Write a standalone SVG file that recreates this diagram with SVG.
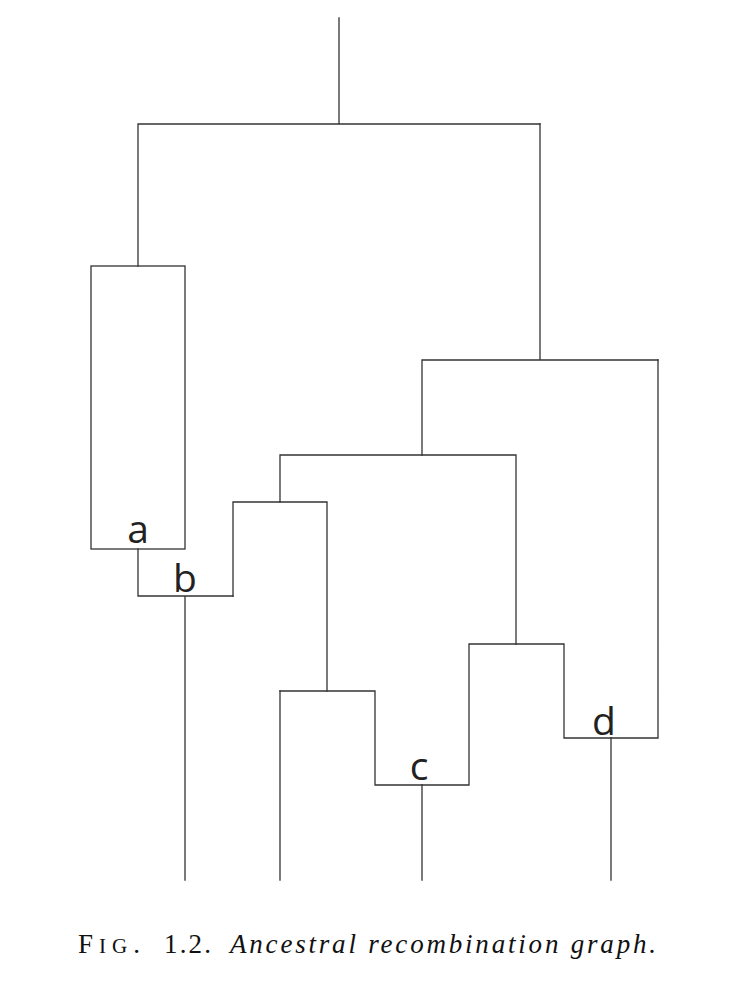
<svg xmlns="http://www.w3.org/2000/svg" width="739" height="1001" viewBox="0 0 739 1001">
<style>
.e{fill:none;stroke:#333;stroke-width:1.3;stroke-linecap:square}
.lab{font-family:"Open Sans","DejaVu Sans",sans-serif;font-size:39px;fill:#222;text-anchor:middle}
.cap{font-family:"Liberation Serif",serif;font-size:27px;fill:#111}
</style>
<rect width="739" height="1001" fill="#fff"/>
<g id="edges">
<path class="e" d="M339,18V124M138,124H540M138,124V266"/>
<path class="e" d="M540,124V360M422,360H658M422,360V455"/>
<path class="e" d="M280,455H516M280,455V502M516,455V644"/>
<path class="e" d="M233,502H327M327,502V691M233,502V596"/>
<path class="e" d="M138,549V596H233M185,596V880"/>
<path class="e" d="M280,691H375V785H469V644H564V738H658V360"/>
<path class="e" d="M280,691V880M422,785V880M611,738V880"/>
</g>
<g id="node-a"><rect class="e" x="91" y="266" width="94" height="283"/><text class="lab" x="138" y="543">a</text></g>
<g id="node-b"><text class="lab" x="185" y="592">b</text></g>
<g id="node-c"><text class="lab" x="419" y="780">c</text></g>
<g id="node-d"><text class="lab" x="604" y="735">d</text></g>
<g id="caption">
<text class="cap" x="78" y="953" textLength="62" lengthAdjust="spacing">F<tspan font-size="21">IG</tspan>.</text>
<text class="cap" x="164" y="953" textLength="47" lengthAdjust="spacing">1.2.</text>
<text class="cap" x="230" y="953" font-style="italic" textLength="426" lengthAdjust="spacing">Ancestral recombination graph.</text>
</g>
</svg>
